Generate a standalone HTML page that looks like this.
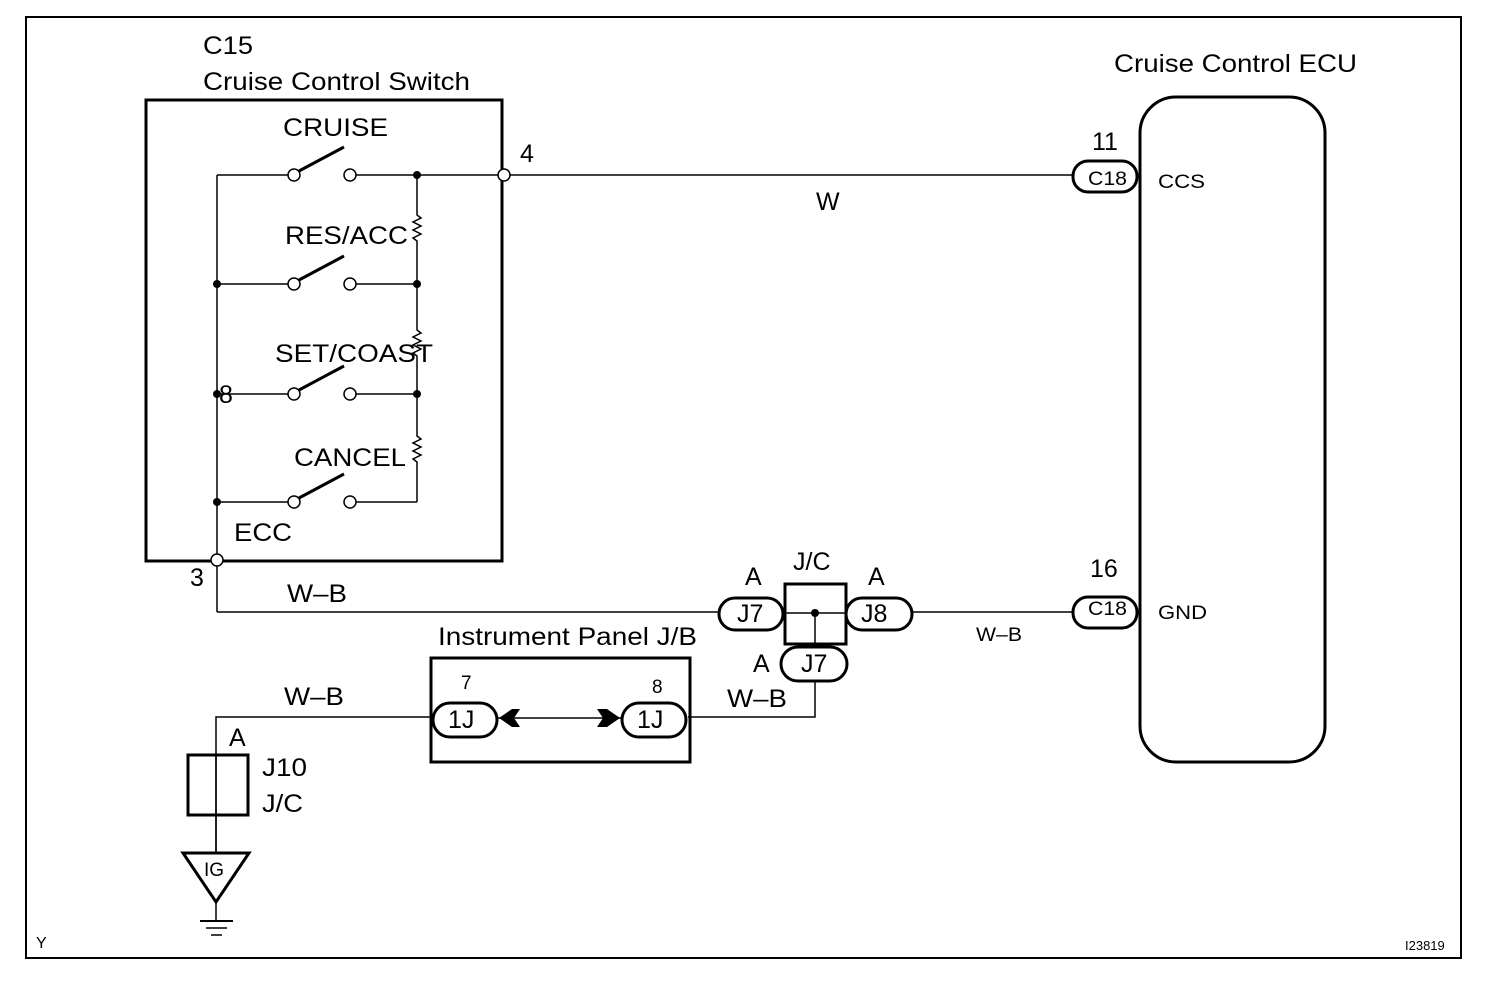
<!DOCTYPE html>
<html><head><style>
html,body{margin:0;padding:0;background:#fff;}
svg{display:block;}
text{font-family:"Liberation Sans",sans-serif;fill:#000;}
</style></head><body>
<svg width="1504" height="986" viewBox="0 0 1504 986" xmlns="http://www.w3.org/2000/svg">
<g fill="none" stroke="#000">
<rect x="26" y="17" width="1435" height="941" stroke-width="2"/>
<rect x="146" y="100" width="356" height="461" stroke-width="3"/>
<rect x="1140" y="97" width="185" height="665" rx="36" ry="36" stroke-width="3"/>
<rect x="431" y="658" width="259" height="104" stroke-width="3"/>
<g stroke-width="1.5">
<line x1="217" y1="175" x2="217" y2="612"/>
<line x1="217" y1="175" x2="288" y2="175"/><line x1="356" y1="175" x2="498" y2="175"/>
<line x1="217" y1="284" x2="288" y2="284"/><line x1="356" y1="284" x2="417" y2="284"/>
<line x1="217" y1="394" x2="288" y2="394"/><line x1="356" y1="394" x2="417" y2="394"/>
<line x1="217" y1="502" x2="288" y2="502"/><line x1="356" y1="502" x2="417" y2="502"/>
<path d="M417 175 V215 l4 3 -8 4 8 4 -8 4 8 4 -8 4 4 3 V330 l4 3 -8 4 8 4 -8 4 8 4 -8 4 4 3 V436 l4 3 -8 4 8 4 -8 4 8 4 -8 4 4 3 V502"/>
<line x1="510" y1="175" x2="1073" y2="175"/>
<line x1="217" y1="612" x2="719" y2="612"/>
<line x1="912" y1="612" x2="1073" y2="612"/>
<line x1="785" y1="613" x2="846" y2="613"/>
<line x1="815" y1="613" x2="815" y2="646"/>
<polyline points="815,682 815,717 688,717"/>
<line x1="497" y1="718" x2="622" y2="718"/>
<polyline points="431,717 216,717 216,852"/>
<line x1="216" y1="902" x2="216" y2="921"/>
<line x1="200" y1="921" x2="233" y2="921" stroke-width="2"/>
<line x1="206" y1="928" x2="227" y2="928"/>
<line x1="211" y1="935" x2="222" y2="935"/>
</g>
<g stroke-width="3">
<line x1="299" y1="171" x2="344" y2="147"/>
<line x1="299" y1="280" x2="344" y2="256"/>
<line x1="299" y1="390" x2="344" y2="366"/>
<line x1="299" y1="498" x2="344" y2="474"/>
</g>
<g stroke-width="1.5" fill="#fff">
<circle cx="294" cy="175" r="6"/><circle cx="350" cy="175" r="6"/>
<circle cx="294" cy="284" r="6"/><circle cx="350" cy="284" r="6"/>
<circle cx="294" cy="394" r="6"/><circle cx="350" cy="394" r="6"/>
<circle cx="294" cy="502" r="6"/><circle cx="350" cy="502" r="6"/>
<circle cx="504" cy="175" r="6"/>
<circle cx="217" cy="560" r="6"/>
</g>
<g stroke-width="3" fill="#fff">
<rect x="1073" y="161" width="64" height="31" rx="15"/>
<rect x="1073" y="597" width="64" height="31" rx="15"/>
<rect x="719" y="598" width="64" height="32" rx="16"/>
<rect x="846" y="598" width="66" height="32" rx="16"/>
<rect x="781" y="647" width="66" height="34" rx="17"/>
<rect x="433" y="703" width="64" height="34" rx="17"/>
<rect x="622" y="703" width="64" height="34" rx="17"/>
<rect x="188" y="755" width="60" height="60" fill="none"/>
<polygon points="183,853 249,853 216,902"/>
</g>
<rect x="785" y="584" width="61" height="60" stroke-width="3"/>
<line x1="216" y1="755" x2="216" y2="852" stroke-width="1.5"/>
</g>
<g fill="#000">
<circle cx="417" cy="175" r="4"/><circle cx="217" cy="284" r="4"/><circle cx="417" cy="284" r="4"/>
<circle cx="217" cy="394" r="4"/><circle cx="417" cy="394" r="4"/><circle cx="217" cy="502" r="4"/>
<circle cx="815" cy="613" r="4"/>
<polygon points="499,718 512,709 520,709 514,718 520,727 512,727"/>
<polygon points="620,718 607,709 597,709 603,718 597,727 607,727"/>
</g>
<g font-size="25">
<text x="203" y="54" textLength="50" lengthAdjust="spacingAndGlyphs">C15</text>
<text x="203" y="90" textLength="267" lengthAdjust="spacingAndGlyphs">Cruise Control Switch</text>
<text x="1114" y="72" textLength="243" lengthAdjust="spacingAndGlyphs">Cruise Control ECU</text>
<text x="283" y="136" textLength="105" lengthAdjust="spacingAndGlyphs">CRUISE</text>
<text x="285" y="244" textLength="123" lengthAdjust="spacingAndGlyphs">RES/ACC</text>
<text x="275" y="362" textLength="158" lengthAdjust="spacingAndGlyphs">SET/COAST</text>
<text x="294" y="466" textLength="112" lengthAdjust="spacingAndGlyphs">CANCEL</text>
<text x="234" y="541" textLength="58" lengthAdjust="spacingAndGlyphs">ECC</text>
<text x="219" y="403">8</text>
<text x="520" y="162">4</text>
<text x="190" y="586">3</text>
<text x="816" y="210">W</text>
<text x="1092" y="150">11</text>
<text x="1090" y="577">16</text>
<text x="287" y="602" textLength="60" lengthAdjust="spacingAndGlyphs">W–B</text>
<text x="284" y="705" textLength="60" lengthAdjust="spacingAndGlyphs">W–B</text>
<text x="727" y="707" textLength="60" lengthAdjust="spacingAndGlyphs">W–B</text>
<text x="745" y="585">A</text>
<text x="868" y="585">A</text>
<text x="793" y="570">J/C</text>
<text x="753" y="672">A</text>
<text x="229" y="746">A</text>
<text x="262" y="776" textLength="45" lengthAdjust="spacingAndGlyphs">J10</text>
<text x="262" y="812" textLength="41" lengthAdjust="spacingAndGlyphs">J/C</text>
<text x="438" y="645" textLength="259" lengthAdjust="spacingAndGlyphs">Instrument Panel J/B</text>
<text x="737" y="622">J7</text>
<text x="861" y="622">J8</text>
<text x="801" y="672">J7</text>
<text x="448" y="728">1J</text>
<text x="637" y="728">1J</text>
</g>
<g font-size="19">
<text x="1088" y="185" textLength="39" lengthAdjust="spacingAndGlyphs">C18</text>
<text x="1088" y="615" textLength="39" lengthAdjust="spacingAndGlyphs">C18</text>
<text x="1158" y="188" textLength="47" lengthAdjust="spacingAndGlyphs">CCS</text>
<text x="1158" y="619" textLength="49" lengthAdjust="spacingAndGlyphs">GND</text>
<text x="976" y="641" textLength="46" lengthAdjust="spacingAndGlyphs">W–B</text>
<text x="461" y="689">7</text>
<text x="652" y="693">8</text>
<text x="204" y="876">IG</text>
</g>
<text x="36" y="948" font-size="16">Y</text>
<text x="1405" y="950" font-size="13">I23819</text>
</svg>
</body></html>
